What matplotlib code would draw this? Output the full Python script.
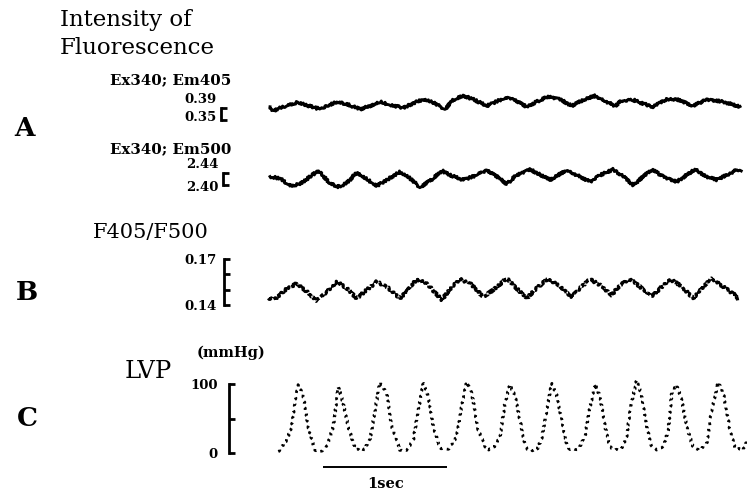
import matplotlib
matplotlib.use("Agg")
import matplotlib.pyplot as plt

# ---------------- data (time in s, values in panel units) ----------------
em405_t = [0.000, 0.027, 0.081, 0.215, 0.266, 0.377, 0.417, 0.538, 0.619, 0.726, 0.806, 0.887,
           0.968, 1.075, 1.183, 1.236, 1.317, 1.411, 1.478, 1.559, 1.640, 1.748, 1.855, 1.935,
           1.989, 2.070, 2.151, 2.244, 2.339, 2.433, 2.527, 2.621, 2.715, 2.782, 2.836, 2.930,
           2.998, 3.091, 3.199, 3.280, 3.414, 3.522, 3.656, 3.790]
em405_v = [0.394, 0.381, 0.390, 0.408, 0.403, 0.389, 0.389, 0.411, 0.403, 0.386, 0.397, 0.411,
           0.400, 0.391, 0.411, 0.419, 0.408, 0.386, 0.417, 0.431, 0.419, 0.397, 0.417, 0.424,
           0.414, 0.394, 0.411, 0.428, 0.419, 0.397, 0.417, 0.431, 0.411, 0.397, 0.414, 0.417,
           0.406, 0.394, 0.420, 0.419, 0.397, 0.419, 0.411, 0.394]

em500_t = [0.000, 0.081, 0.161, 0.242, 0.390, 0.484, 0.551, 0.619, 0.699, 0.780, 0.860, 0.941,
           1.048, 1.129, 1.210, 1.317, 1.385, 1.452, 1.559, 1.667, 1.748, 1.855, 1.909, 1.989,
           2.097, 2.258, 2.393, 2.474, 2.581, 2.661, 2.769, 2.849, 2.930, 3.078, 3.172, 3.280,
           3.427, 3.522, 3.602, 3.737, 3.764, 3.796]
em500_v = [2.428, 2.422, 2.397, 2.403, 2.448, 2.406, 2.394, 2.406, 2.442, 2.420, 2.397, 2.417,
           2.444, 2.422, 2.392, 2.422, 2.448, 2.433, 2.417, 2.433, 2.450, 2.422, 2.403, 2.433,
           2.452, 2.417, 2.450, 2.433, 2.411, 2.433, 2.452, 2.428, 2.400, 2.452, 2.428, 2.411,
           2.452, 2.428, 2.417, 2.444, 2.452, 2.444]

ratio_t = [-0.014, 0.040, 0.121, 0.215, 0.282, 0.377, 0.457, 0.538, 0.619, 0.699, 0.780, 0.860,
           0.941, 1.048, 1.102, 1.183, 1.264, 1.385, 1.465, 1.532, 1.613, 1.720, 1.801, 1.909,
           1.976, 2.070, 2.151, 2.244, 2.339, 2.433, 2.500, 2.581, 2.661, 2.756, 2.823, 2.903,
           2.984, 3.078, 3.159, 3.226, 3.306, 3.414, 3.495, 3.562, 3.656, 3.750, 3.777]
ratio_v = [0.1444, 0.1439, 0.1498, 0.1541, 0.1498, 0.1428, 0.1487, 0.1552, 0.1509, 0.1444, 0.1498,
           0.1552, 0.1519, 0.1444, 0.1487, 0.1568, 0.1541, 0.1433, 0.1519, 0.1568, 0.1541, 0.1454,
           0.1498, 0.1574, 0.1519, 0.1444, 0.1509, 0.1574, 0.1519, 0.1454, 0.1509, 0.1568, 0.1530,
           0.1465, 0.1530, 0.1568, 0.1519, 0.1454, 0.1519, 0.1568, 0.1530, 0.1444, 0.1519, 0.1574,
           0.1519, 0.1465, 0.1433]

lvp_t = [0.067, 0.135, 0.175, 0.202, 0.228, 0.269, 0.309, 0.363, 0.417, 0.457, 0.510, 0.551,
         0.591, 0.631, 0.685, 0.752, 0.806, 0.847, 0.887, 0.941, 0.981, 1.048, 1.102, 1.156,
         1.196, 1.236, 1.277, 1.317, 1.371, 1.438, 1.506, 1.546, 1.586, 1.627, 1.680, 1.748,
         1.801, 1.855, 1.895, 1.935, 1.976, 2.016, 2.056, 2.083, 2.151, 2.191, 2.232, 2.272,
         2.312, 2.353, 2.393, 2.419, 2.487, 2.540, 2.581, 2.621, 2.661, 2.702, 2.742, 2.782,
         2.836, 2.877, 2.903, 2.957, 2.998, 3.038, 3.078, 3.119, 3.172, 3.212, 3.240, 3.280,
         3.320, 3.361, 3.414, 3.468, 3.522, 3.562, 3.615, 3.656, 3.710, 3.750, 3.817, 3.847]
lvp_v = [2, 19, 38, 77, 99, 82, 38, 4, 2, 9, 38, 96,
         72, 38, 7, 3, 19, 62, 103, 87, 38, 4, 4, 19,
         62, 101, 82, 38, 7, 5, 24, 67, 103, 87, 33, 4,
         7, 24, 72, 99, 82, 48, 12, 4, 4, 21, 62, 101,
         84, 48, 12, 5, 5, 24, 67, 100, 82, 38, 9, 4,
         7, 24, 62, 106, 82, 38, 9, 5, 9, 33, 87, 99,
         77, 38, 7, 4, 14, 62, 103, 87, 33, 7, 5, 19]

a1_ticks = [0.35, 0.39]
a2_ticks = [2.40, 2.44]
b_ticks = [0.14, 0.15, 0.16, 0.17]
b_labels = ["0.14", "", "", "0.17"]
c_ticks = [0, 50, 100]
c_labels = ["0", "", "100"]
time_bar_start = 0.43
time_bar_len = 1.0

# ---------------- layout ----------------
W, H = 747, 492
fig = plt.figure(figsize=(W / 100, H / 100), dpi=100)
fig.patch.set_facecolor("white")

T0_PX = 270.0     # pixel position of t = 0
PX_PER_S = 124.0  # pixels per second
SERIF = "DejaVu Serif"


def px_axes(x0, y0, x1, y1):
    ax = fig.add_axes([x0 / W, 1 - y1 / H, (x1 - x0) / W, (y1 - y0) / H])
    ax.set_xlim((x0 - T0_PX) / PX_PER_S, (x1 - T0_PX) / PX_PER_S)
    ax.patch.set_alpha(0)
    for s in ["top", "right", "bottom"]:
        ax.spines[s].set_visible(False)
    ax.set_xticks([])
    ax.spines["left"].set_linewidth(2.0)
    ax.tick_params(axis="y", direction="in", length=4.5, width=2.0, labelsize=9.5)
    return ax


def ftext(x, y, s, **kw):
    fig.text(x / W, 1 - y / H, s, family=SERIF, **kw)


def trace(ax, t, v, **kw):
    ln, = ax.plot(t, v, color="black", clip_on=False, **kw)
    return ln


# Panel A, trace 1
ax1 = px_axes(221, 108, 747, 120)
ax1.set_ylim(a1_ticks[0], a1_ticks[1])
ax1.set_yticks(a1_ticks)
ax1.set_yticklabels([])
l = trace(ax1, em405_t, em405_v, lw=2.1)
l.set_sketch_params(1.2, 2.5, 2)
ax1.annotate("0.39", xy=(0, a1_ticks[1]), xycoords=ax1.get_yaxis_transform(),
             xytext=(-3, 6), textcoords="offset points", ha="right", va="center",
             family=SERIF, weight="bold", fontsize=9.5)
ax1.annotate("0.35", xy=(0, a1_ticks[0]), xycoords=ax1.get_yaxis_transform(),
             xytext=(-3, 2), textcoords="offset points", ha="right", va="center",
             family=SERIF, weight="bold", fontsize=9.5)

# Panel A, trace 2
ax2 = px_axes(223, 173, 747, 185)
ax2.set_ylim(a2_ticks[0], a2_ticks[1])
ax2.set_yticks(a2_ticks)
ax2.set_yticklabels([])
l = trace(ax2, em500_t, em500_v, lw=2.1)
l.set_sketch_params(1.2, 2.5, 2)
ax2.annotate("2.44", xy=(0, a2_ticks[1]), xycoords=ax2.get_yaxis_transform(),
             xytext=(-3, 6), textcoords="offset points", ha="right", va="center",
             family=SERIF, weight="bold", fontsize=9.5)
ax2.annotate("2.40", xy=(0, a2_ticks[0]), xycoords=ax2.get_yaxis_transform(),
             xytext=(-3, -1.5), textcoords="offset points", ha="right", va="center",
             family=SERIF, weight="bold", fontsize=9.5)

# Panel B
axb = px_axes(224, 259, 747, 305)
axb.set_ylim(b_ticks[0], b_ticks[-1])
axb.set_yticks(b_ticks)
axb.set_yticklabels(b_labels, family=SERIF, weight="bold")
axb.tick_params(axis="y", pad=5)
l = trace(axb, ratio_t, ratio_v, lw=2.3, linestyle=(0, (1.6, 0.6)))
l.set_sketch_params(1.1, 3, 2)

# Panel C
axc = px_axes(229, 384, 747, 453)
axc.set_ylim(c_ticks[0], c_ticks[-1])
axc.set_yticks(c_ticks)
axc.set_yticklabels(c_labels, family=SERIF, weight="bold")
axc.tick_params(axis="y", pad=8)
l = trace(axc, lvp_t, lvp_v, lw=2.0, linestyle=(0, (1.0, 1.7)))
l.set_sketch_params(0.6, 3, 2)

# 1 sec scale bar (below panel C)
axc.plot([time_bar_start, time_bar_start + time_bar_len], [-20, -20], color="black",
         lw=1.4, clip_on=False, solid_capstyle="butt")
axc.text(time_bar_start + time_bar_len / 2, -45, "1sec", ha="center", va="center",
         family=SERIF, weight="bold", fontsize=10.5)

# ---------------- texts ----------------
ftext(60, 20, "Intensity of", fontsize=16.5, va="center", ha="left")
ftext(60, 48, "Fluorescence", fontsize=16.5, va="center", ha="left")
ftext(110, 80, "Ex340; Em405", fontsize=10.8, weight="bold", va="center", ha="left")
ftext(110, 149, "Ex340; Em500", fontsize=10.8, weight="bold", va="center", ha="left")
ftext(93, 233, "F405/F500", fontsize=15, va="center", ha="left")
ftext(125, 372, "LVP", fontsize=17.5, va="center", ha="left")
ftext(197, 353, "(mmHg)", fontsize=10.5, weight="bold", va="center", ha="left")
ftext(14, 128, "A", fontsize=19, weight="bold", va="center", ha="left")
ftext(16, 292, "B", fontsize=19, weight="bold", va="center", ha="left")
ftext(17, 419, "C", fontsize=19, weight="bold", va="center", ha="left")

fig.savefig("out.png", dpi=100, facecolor="white")
